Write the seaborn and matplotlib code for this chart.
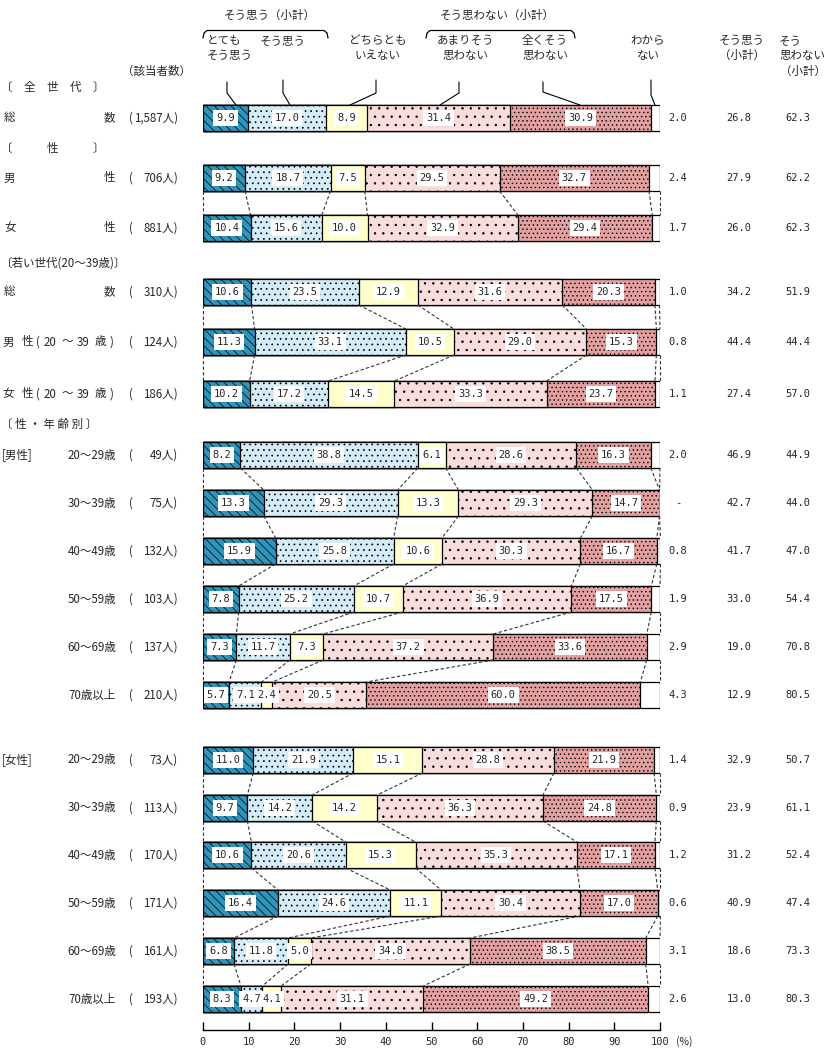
import numpy as np
import pandas as pd
import matplotlib
matplotlib.use("Agg")
import matplotlib.pyplot as plt
import seaborn as sns

# ---------------- data ----------------
categories = ["とても\nそう思う", "そう思う", "どちらとも\nいえない",
              "あまりそう\n思わない", "全くそう\n思わない", "わから\nない"]
row_names = ["総数", "男性", "女性",
             "総数", "男性（20～39歳）", "女性（20～39歳）",
             "20～29歳", "30～39歳", "40～49歳", "50～59歳", "60～69歳", "70歳以上",
             "20～29歳", "30～39歳", "40～49歳", "50～59歳", "60～69歳", "70歳以上"]
counts = ["1,587", "706", "881", "310", "124", "186",
          "49", "75", "132", "103", "137", "210",
          "73", "113", "170", "171", "161", "193"]
totemo = [9.9, 9.2, 10.4, 10.6, 11.3, 10.2, 8.2, 13.3, 15.9, 7.8, 7.3, 5.7,
          11.0, 9.7, 10.6, 16.4, 6.8, 8.3]
sou = [17.0, 18.7, 15.6, 23.5, 33.1, 17.2, 38.8, 29.3, 25.8, 25.2, 11.7, 7.1,
       21.9, 14.2, 20.6, 24.6, 11.8, 4.7]
dochira = [8.9, 7.5, 10.0, 12.9, 10.5, 14.5, 6.1, 13.3, 10.6, 10.7, 7.3, 2.4,
           15.1, 14.2, 15.3, 11.1, 5.0, 4.1]
amari = [31.4, 29.5, 32.9, 31.6, 29.0, 33.3, 28.6, 29.3, 30.3, 36.9, 37.2, 20.5,
         28.8, 36.3, 35.3, 30.4, 34.8, 31.1]
mattaku = [30.9, 32.7, 29.4, 20.3, 15.3, 23.7, 16.3, 14.7, 16.7, 17.5, 33.6, 60.0,
           21.9, 24.8, 17.1, 17.0, 38.5, 49.2]
wakaranai = [2.0, 2.4, 1.7, 1.0, 0.8, 1.1, 2.0, 0.0, 0.8, 1.9, 2.9, 4.3,
             1.4, 0.9, 1.2, 0.6, 3.1, 2.6]
sou_total = [26.8, 27.9, 26.0, 34.2, 44.4, 27.4, 46.9, 42.7, 41.7, 33.0, 19.0, 12.9,
             32.9, 23.9, 31.2, 40.9, 18.6, 13.0]
not_total = [62.3, 62.2, 62.3, 51.9, 44.4, 57.0, 44.9, 44.0, 47.0, 54.4, 70.8, 80.5,
             50.7, 61.1, 52.4, 47.4, 73.3, 80.3]
x_ticks = [0, 10, 20, 30, 40, 50, 60, 70, 80, 90, 100]

# ---------------- layout / style ----------------
row_y = [118, 178, 228, 292, 342, 394, 455, 503, 551, 599, 647, 695,
         760, 808, 855, 903, 951, 999]          # pixel rows (layout)
groups = [[1, 2], [3, 4, 5], [6, 7, 8, 9, 10, 11], [12, 13, 14, 15, 16, 17]]
colors = ["#2f95bb", "#d3ecf7", "#ffffcc", "#f9dcdc", "#e2a0a0", "#ffffff"]
hatches = ["\\\\\\\\", "...", None, "..", "....", None]
BAR_PX = 26

sns.set_theme(style="white")
plt.rcParams['font.family'] = ['Noto Sans CJK JP', 'DejaVu Sans']
plt.rcParams['hatch.linewidth'] = 0.5
plt.rcParams['hatch.color'] = 'black'

W, H = 832, 1055
fig = plt.figure(figsize=(W / 100, H / 100), dpi=100)
fig.patch.set_facecolor("white")
X0, X1, YB = 203, 660, 1030
ax = fig.add_axes([X0 / W, (H - YB) / H, (X1 - X0) / W, YB / H])
ax.set_facecolor("none")


def px(p):
    """pixel x -> data x (%)"""
    return (p - X0) / (X1 - X0) * 100


FS = 8.3
MONO = ['DejaVu Sans Mono']

segs = [totemo, sou, dochira, amari, mattaku, wakaranai]
cum = np.cumsum(np.array(segs), axis=0)  # 6 x n

min_diff = np.diff(sorted(row_y)).min()
for k in reversed(range(6)):
    df = pd.DataFrame({"y": row_y, "v": cum[k]})
    sns.barplot(data=df, x="v", y="y", orient="y", native_scale=True,
                width=BAR_PX / min_diff, color=colors[k], hatch=hatches[k],
                edgecolor="black", linewidth=0.9, saturation=1, errorbar=None,
                ax=ax)

ax.set_xlim(0, 100)
ax.set_ylim(YB, 0)
ax.set_xlabel("")
ax.set_ylabel("")
ax.set_yticks([])
for s in ["left", "right", "top"]:
    ax.spines[s].set_visible(False)
ax.spines["bottom"].set_color("black")
ax.spines["bottom"].set_linewidth(1.0)
ax.set_xticks(x_ticks)
ax.set_xticklabels([str(t) for t in x_ticks], family=MONO, fontsize=7.5)
ax.tick_params(axis="x", direction="in", length=6, width=1, color="black", pad=5,
               bottom=True)
ax.text(px(684), 1042, "(%)", ha="center", va="center", fontsize=7.5, clip_on=False)

# value labels inside bars
for i, y in enumerate(row_y):
    left = 0
    for k in range(5):
        v = segs[k][i]
        ax.text(left + v / 2, y, f"{v:.1f}", ha="center", va="center",
                family=MONO, fontsize=7.5, clip_on=False, zorder=5,
                bbox=dict(facecolor="white", edgecolor="none", pad=2.0))
        left += v
    dk = wakaranai[i]
    ax.text(px(678), y, "-" if dk == 0 else f"{dk:.1f}", ha="center", va="center",
            family=MONO, fontsize=7.5, clip_on=False)
    ax.text(px(739), y, f"{sou_total[i]:.1f}", ha="center", va="center",
            family=MONO, fontsize=7.5, clip_on=False)
    ax.text(px(798), y, f"{not_total[i]:.1f}", ha="center", va="center",
            family=MONO, fontsize=7.5, clip_on=False)

# dashed connectors between bars in the same group
half = BAR_PX / 2
for g in groups:
    for a, b in zip(g[:-1], g[1:]):
        ba = np.concatenate([[0], cum[:, a]])
        bb = np.concatenate([[0], cum[:, b]])
        for xa, xb in zip(ba, bb):
            ax.plot([xa, xb], [row_y[a] + half, row_y[b] - half], color="#333333",
                    lw=0.8, ls=(0, (3, 2)), zorder=1, clip_on=False)

# ---------------- header ----------------
def t(xp, yp, s, ha="center", **kw):
    ax.text(px(xp), yp, s, ha=ha, va="center", fontsize=FS, clip_on=False,
            linespacing=1.15, **kw)

t(270, 15, "そう思う（小計）")
t(497, 15, "そう思わない（小計）")
for xl, xr in [(203, 328), (426, 575)]:
    xs = [xl, xl + 1, xl + 4, xr - 4, xr - 1, xr]
    ys = [38, 33, 30.5, 30.5, 33, 38]
    ax.plot([px(v) for v in xs], ys, color="black", lw=0.9, clip_on=False)
t(207, 48, categories[0], ha="left")
t(283, 41, categories[1])
t(378, 48, categories[2])
t(465, 48, categories[3])
t(545, 48, categories[4])
t(648, 48, categories[5])
t(742, 48, "そう思う\n（小計）")
t(779, 41, "そう", ha="left")
t(779, 55, "思わない", ha="left")
t(826, 71, "（小計）", ha="right")
t(156, 71, "（該当者数）")

# leader lines from header labels to first bar
leaders = [[(227, 82), (227, 93), (236, 105)],
           [(283, 80), (283, 93), (290, 105)],
           [(376, 80), (376, 93), (350, 105)],
           [(459, 82), (459, 93), (440, 105)],
           [(543, 82), (543, 92), (580, 105)],
           [(651, 80), (651, 95), (655, 105)]]
for pts in leaders:
    ax.plot([px(p[0]) for p in pts], [p[1] for p in pts], color="black", lw=0.8,
            clip_on=False)

# ---------------- left labels ----------------
t(1, 87, "〔　全　世　代　〕", ha="left")
t(1, 148, "〔　　　性　　　〕", ha="left")
t(1, 263, "〔若い世代(20～39歳)〕", ha="left")
t(1, 424, "〔 性 ・ 年 齢 別 〕", ha="left")
t(2, 455, "[男性]", ha="left")
t(2, 760, "[女性]", ha="left")

for i, y in enumerate(row_y):
    name = row_names[i]
    if i <= 3:
        t(4, y, name[0], ha="left")
        t(104, y, name[1], ha="left")
    elif i in (4, 5):
        core = name[3:-2]                      # "20～39"
        a, b = core.split("～")
        pieces = [name[0], name[1], "(", a, "～", b, name[-2], ")"]
        xs = [8, 27, 38, 50, 67, 83, 100, 111]
        for p, xp in zip(pieces, xs):
            t(xp, y, p)
    else:
        t(116, y, name, ha="right")
    t(129, y, "(", ha="left")
    t(178, y, counts[i] + "人)", ha="right")

fig.savefig("out.png", dpi=100, facecolor="white")
